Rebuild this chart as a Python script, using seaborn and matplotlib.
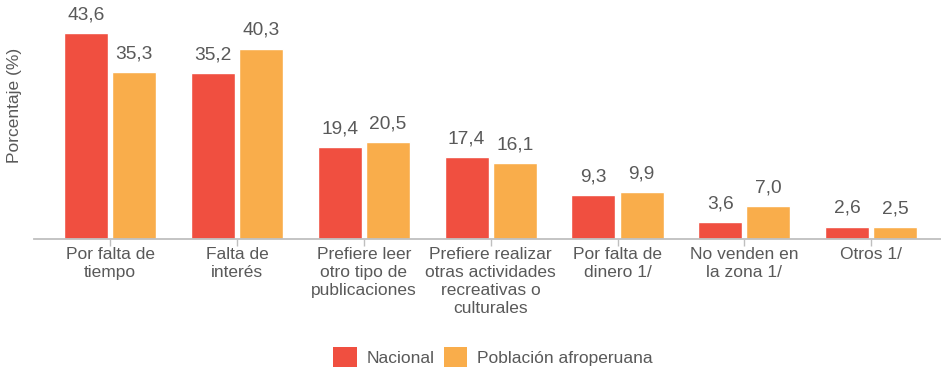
import matplotlib
matplotlib.use("Agg")
import matplotlib.pyplot as plt
import seaborn as sns
import pandas as pd
from matplotlib.patches import Patch

categories = [
    "Por falta de\ntiempo",
    "Falta de\ninterés",
    "Prefiere leer\notro tipo de\npublicaciones",
    "Prefiere realizar\notras actividades\nrecreativas o\nculturales",
    "Por falta de\ndinero 1/",
    "No venden en\nla zona 1/",
    "Otros 1/",
]
nacional = [43.6, 35.2, 19.4, 17.4, 9.3, 3.6, 2.6]
afroperuana = [35.3, 40.3, 20.5, 16.1, 9.9, 7.0, 2.5]
series_names = ["Nacional", "Población afroperuana"]
colors = ["#F04F40", "#F9AD4B"]

df = pd.DataFrame({
    "categoria": categories * 2,
    "serie": [series_names[0]] * len(categories) + [series_names[1]] * len(categories),
    "valor": nacional + afroperuana,
})

sns.set_theme(style="white")
plt.rcParams["font.family"] = ["Liberation Sans", "DejaVu Sans"]
text_color = "#595959"

fig = plt.figure(figsize=(9.41, 3.71), dpi=100)
ax = fig.add_axes([34 / 941, 132 / 371, 1 - 34 / 941, 239 / 371])

sns.barplot(data=df, x="categoria", y="valor", hue="serie", order=categories,
            hue_order=series_names, palette=colors, width=0.76, gap=0.087,
            saturation=1, errorbar=None, legend=False, ax=ax)

for container in ax.containers:
    labels = [f"{v:.1f}".replace(".", ",") for v in container.datavalues]
    ax.bar_label(container, labels=labels, padding=7, fontsize=13.8, color=text_color)

ax.set_xlim(-0.6, 6.55)
ax.set_ylim(0, 50.6)
ax.set_xlabel("")
ax.set_ylabel("")
ax.set_yticks([])
for side in ["top", "right", "left"]:
    ax.spines[side].set_visible(False)
ax.spines["bottom"].set_color("#BFBFBF")
ax.spines["bottom"].set_linewidth(1.3)
ax.set_xticks(range(len(categories)))
ax.set_xticklabels(categories, linespacing=1.25, multialignment="center")
ax.tick_params(axis="x", length=5, width=1, color="#BFBFBF", pad=1,
               labelsize=12.5, labelcolor=text_color, bottom=True)

fig.text(15 / 941, 1 - 105 / 371, "Porcentaje (%)", rotation=90, ha="center",
         va="center", fontsize=12.5, color=text_color)

handles = [Patch(facecolor=c, edgecolor="none", label=n) for c, n in zip(colors, series_names)]
fig.legend(handles=handles, loc="center", bbox_to_anchor=(493 / 941, 1 - 357 / 371),
           ncol=2, frameon=False, fontsize=12.5, handlelength=1.35, handleheight=1.35,
           handletextpad=0.55, columnspacing=0.55, labelcolor=text_color)

fig.savefig("out.png", dpi=100)
